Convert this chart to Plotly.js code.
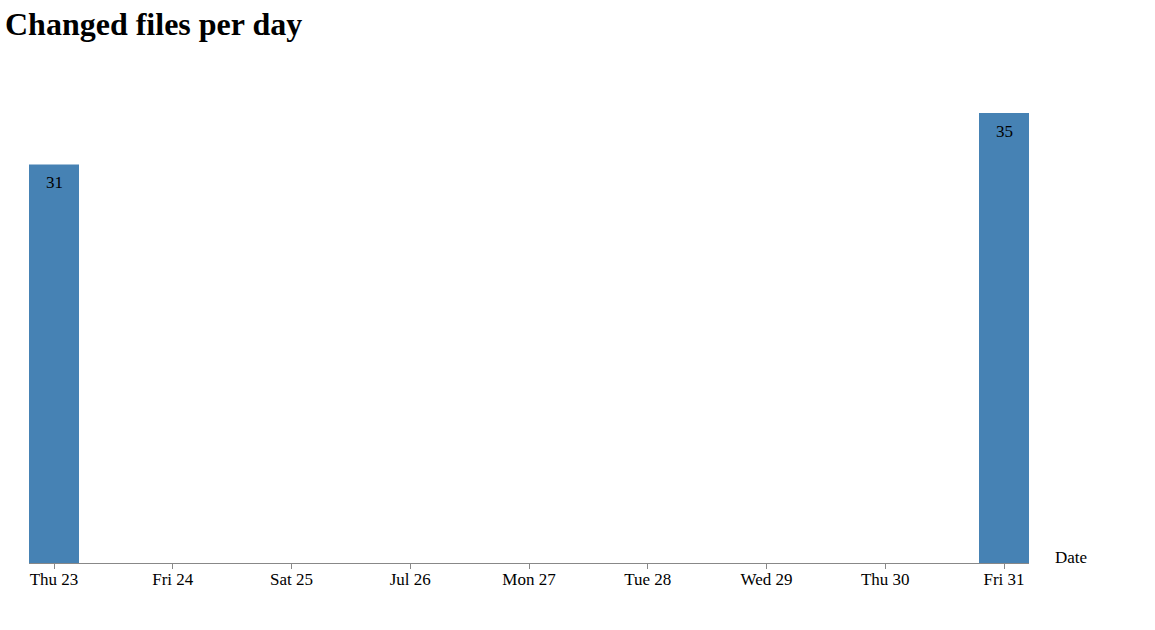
<!DOCTYPE html>
<html>
<head>
<meta charset="utf-8">
<script src="https://cdn.plot.ly/plotly-3.0.1.min.js"></script>
<style>html,body{margin:0;padding:0;background:#fff;}#chart{width:1155px;height:630px;}</style>
</head>
<body>
<div id="chart"></div>
<script>
const dates = ["2020-07-23", "2020-07-31"];
const changedFiles = [31, 35];
const tickDates = ["2020-07-23","2020-07-24","2020-07-25","2020-07-26","2020-07-27","2020-07-28","2020-07-29","2020-07-30","2020-07-31"];
const tickLabels = ["Thu 23","Fri 24","Sat 25","Jul 26","Mon 27","Tue 28","Wed 29","Thu 30","Fri 31"];

const DAY = 86400000;
const font = "Liberation Serif, Times New Roman, serif";
const trace = {
  type: "bar",
  x: dates,
  y: changedFiles,
  width: dates.map(() => DAY * 50 / 118.75),
  marker: {color: "#4682b4"},
  hoverinfo: "x+y"
};
const pad = 25 / 118.75 * DAY;
const start = new Date(Date.parse("2020-07-23T00:00:00Z") - pad);
const end = new Date(Date.parse("2020-07-31T00:00:00Z") + pad);
const fmt = d => d.toISOString().replace("T", " ").replace("Z", "");
const valueLabels = dates.map((d, i) => ({
  text: String(changedFiles[i]), x: d, y: changedFiles[i], xref: "x", yref: "y",
  xanchor: "center", yanchor: "top", yshift: -7, showarrow: false,
  font: {family: font, size: 17, color: "#000"}
}));
const layout = {
  width: 1155, height: 630,
  margin: {l: 29, r: 126, t: 112.5, b: 67, pad: 0},
  paper_bgcolor: "#fff", plot_bgcolor: "#fff",
  showlegend: false,
  title: {text: "<b>Changed files per day</b>", x: 5/1155, xanchor: "left", xref: "container", y: 1 - 24/630, yanchor: "middle", yref: "container",
          font: {family: font, size: 32, color: "#000"}},
  xaxis: {type: "date", range: [fmt(start), fmt(end)], tickvals: tickDates, ticktext: tickLabels,
          showgrid: false, zeroline: false, showline: true, linecolor: "#888", linewidth: 1,
          ticks: "outside", ticklen: 5, tickcolor: "#888", ticklabelstandoff: -4,
          tickfont: {family: font, size: 17, color: "#000"}},
  yaxis: {range: [0, 35], visible: false, showgrid: false, zeroline: false},
  annotations: valueLabels.concat([{text: "Date", xref: "paper", yref: "paper", x: 1, y: 0, xanchor: "left", yanchor: "middle",
                 xshift: 24, yshift: 6, showarrow: false, font: {family: font, size: 17, color: "#000"}}])
};
Plotly.newPlot("chart", [trace], layout, {displayModeBar: false, staticPlot: true});
</script>
</body>
</html>
